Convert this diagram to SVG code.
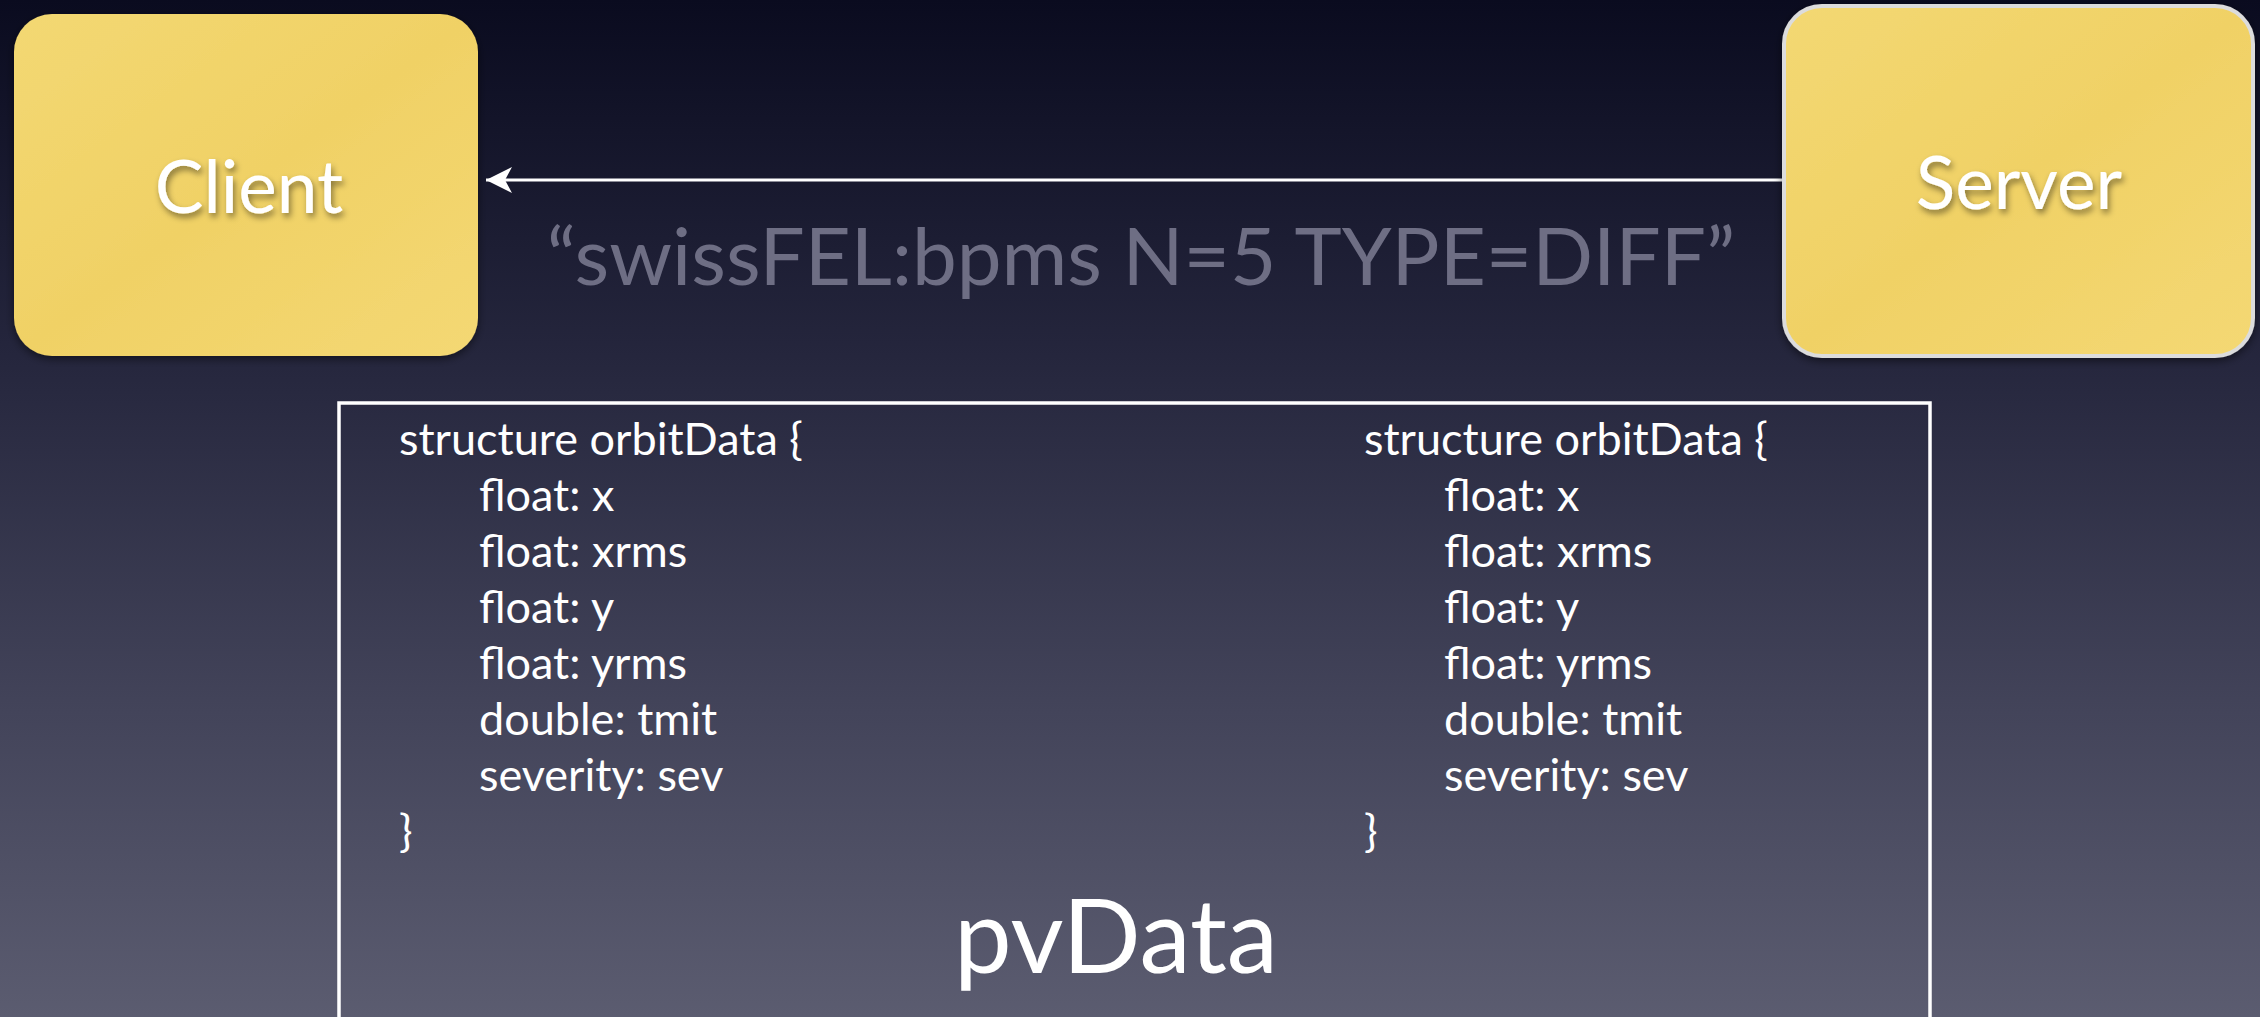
<svg xmlns="http://www.w3.org/2000/svg" width="2260" height="1017" viewBox="0 0 2260 1017">
  <defs>
    <linearGradient id="bg" x1="0" y1="0" x2="0" y2="1">
      <stop offset="0" stop-color="#0a0b1f"/>
      <stop offset="0.35" stop-color="#25263d"/>
      <stop offset="0.7" stop-color="#43445a"/>
      <stop offset="1" stop-color="#5b5c70"/>
    </linearGradient>
    <linearGradient id="paper" x1="0" y1="0" x2="1" y2="1">
      <stop offset="0" stop-color="#f3d873"/>
      <stop offset="0.5" stop-color="#f0d165"/>
      <stop offset="1" stop-color="#f4d874"/>
    </linearGradient>
    <filter id="shadow" x="-20%" y="-20%" width="140%" height="140%">
      <feDropShadow dx="2" dy="4" stdDeviation="3" flood-color="#000" flood-opacity="0.45"/>
    </filter>
    <filter id="boxShadow" x="-10%" y="-10%" width="120%" height="120%">
      <feDropShadow dx="0" dy="3" stdDeviation="4" flood-color="#000" flood-opacity="0.5"/>
    </filter>
    <marker id="head" markerUnits="userSpaceOnUse" markerWidth="30" markerHeight="30" viewBox="-28 -15 30 30" refX="0" refY="0" orient="auto">
      <path d="M0,0 L-26,-13 L-19,0 L-26,13 Z" fill="#ffffff"/>
    </marker>
  </defs>
  <style>
    .node-box { fill: url(#paper); filter: url(#boxShadow); }
    .node-label { font-family: "Lato", "Liberation Sans", sans-serif; font-size: 73px; fill: #ffffff; text-anchor: middle; filter: url(#shadow); }
    .edge { stroke: #ffffff; stroke-width: 3; fill: none; }
    .edge-label { font-family: "Lato", "Liberation Sans", sans-serif; font-size: 80px; fill: #6e6e84; text-anchor: middle; }
    .code { font-family: "Lato", "Liberation Sans", sans-serif; font-size: 45px; fill: #ffffff; }
    .frame { fill: none; stroke: #ffffff; stroke-width: 3.5; }
    .title { font-family: "Lato", "Liberation Sans", sans-serif; font-size: 103px; fill: #ffffff; text-anchor: middle; }
  </style>

  <rect x="0" y="0" width="2260" height="1017" fill="url(#bg)"/>

  <g id="connectors">
    <line class="edge" x1="1783" y1="180" x2="486" y2="180" marker-end="url(#head)"/>
    <text class="edge-label" x="1141" y="285">“swissFEL:bpms N=5 TYPE=DIFF”</text>
  </g>

  <g id="client">
    <rect class="node-box" x="14" y="14" width="464" height="342" rx="38" ry="38"/>
    <text class="node-label" x="249" y="213">Client</text>
  </g>

  <g id="server">
    <rect class="node-box" x="1784" y="6" width="469" height="350" rx="38" ry="38" stroke="#dcdcdc" stroke-width="4"/>
    <text class="node-label" x="2019" y="209">Server</text>
  </g>

  <g id="pvdata">
    <rect class="frame" x="339" y="403" width="1591" height="640"/>
    <text class="code" x="399" y="455">structure orbitData {</text>
    <text class="code" x="479" y="511">float: x</text>
    <text class="code" x="479" y="567">float: xrms</text>
    <text class="code" x="479" y="623">float: y</text>
    <text class="code" x="479" y="679">float: yrms</text>
    <text class="code" x="479" y="735">double: tmit</text>
    <text class="code" x="479" y="791">severity: sev</text>
    <text class="code" x="399" y="847">}</text>

    <text class="code" x="1364" y="455">structure orbitData {</text>
    <text class="code" x="1444" y="511">float: x</text>
    <text class="code" x="1444" y="567">float: xrms</text>
    <text class="code" x="1444" y="623">float: y</text>
    <text class="code" x="1444" y="679">float: yrms</text>
    <text class="code" x="1444" y="735">double: tmit</text>
    <text class="code" x="1444" y="791">severity: sev</text>
    <text class="code" x="1364" y="847">}</text>

    <text class="title" x="1116" y="973">pvData</text>
  </g>
</svg>
